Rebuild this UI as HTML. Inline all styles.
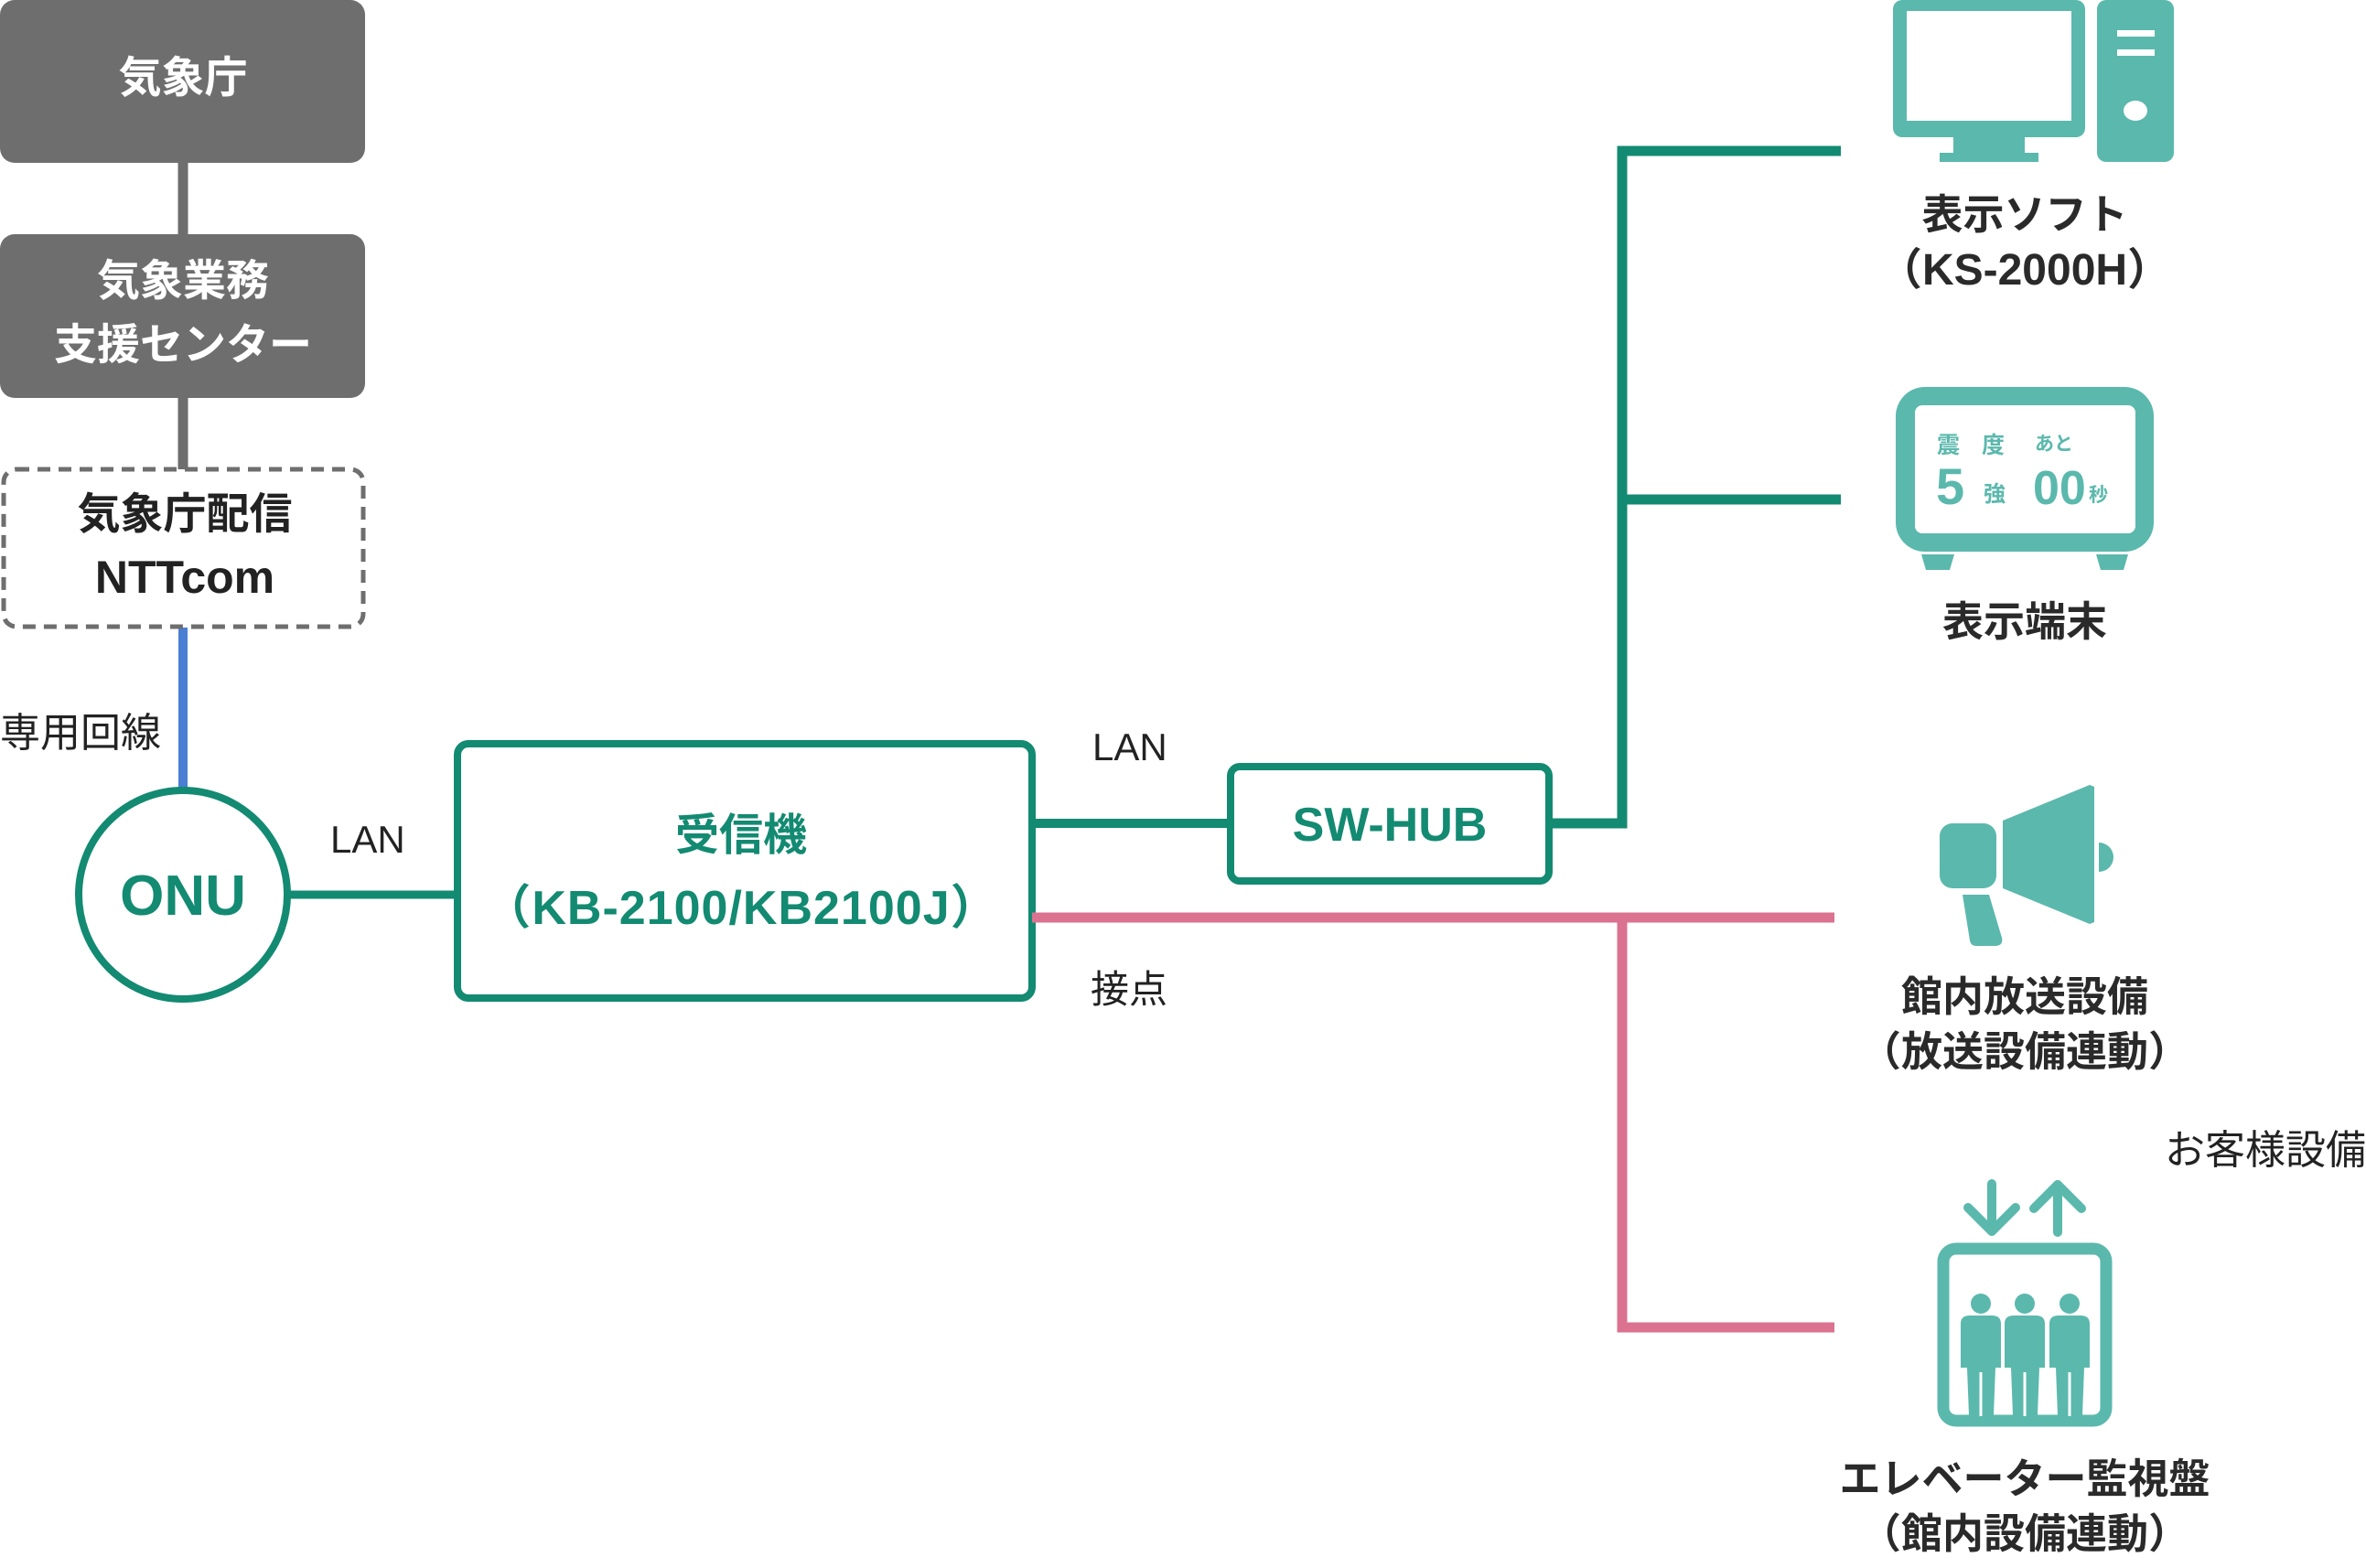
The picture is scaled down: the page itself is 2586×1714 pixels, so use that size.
<!DOCTYPE html>
<html><head><meta charset="utf-8"><style>
html,body{margin:0;padding:0;background:#fff}
svg{display:block}
text{font-family:"Liberation Sans","Noto Sans CJK JP",sans-serif}
</style></head><body>
<svg width="2586" height="1714" viewBox="0 0 2586 1714" xmlns="http://www.w3.org/2000/svg">
<line x1="200" y1="175" x2="200" y2="260" stroke="#6e6e6e" stroke-width="11"/>
<line x1="200" y1="430" x2="200" y2="514" stroke="#6e6e6e" stroke-width="11"/>
<line x1="200" y1="686" x2="200" y2="864" stroke="#4a7fd4" stroke-width="10"/>
<rect x="0" y="0" width="399" height="178" rx="16" fill="#6e6e6e"/>
<text x="200" y="101" font-size="47" font-weight="bold" fill="#fff" text-anchor="middle">気象庁</text>
<rect x="0" y="256" width="399" height="179" rx="16" fill="#6e6e6e"/>
<text x="200" y="323" font-size="47" font-weight="bold" fill="#fff" text-anchor="middle">気象業務</text>
<text x="200" y="393" font-size="47" font-weight="bold" fill="#fff" text-anchor="middle">支援センター</text>
<rect x="4" y="513" width="393" height="172" rx="14" fill="#fff" stroke="#6e6e6e" stroke-width="5" stroke-dasharray="14 9"/>
<text x="202" y="578" font-size="47" font-weight="bold" fill="#222" text-anchor="middle">気象庁配信</text>
<text x="202" y="648" font-size="50" font-weight="bold" fill="#222" text-anchor="middle">NTTcom</text>
<text x="0" y="816" font-size="44" fill="#222">専用回線</text>
<line x1="317" y1="978" x2="500" y2="978" stroke="#138a72" stroke-width="9"/>
<circle cx="200" cy="978" r="114" fill="#fff" stroke="#138a72" stroke-width="8"/>
<text x="200" y="1000" font-size="62" font-weight="bold" fill="#138a72" text-anchor="middle">ONU</text>
<text x="361" y="932" font-size="42" fill="#222">LAN</text>
<rect x="500" y="813" width="628" height="278" rx="12" fill="#fff" stroke="#138a72" stroke-width="8"/>
<text x="810" y="929" font-size="48" font-weight="bold" fill="#138a72" text-anchor="middle">受信機</text>
<text x="810" y="1010" font-size="52" font-weight="bold" fill="#138a72" text-anchor="middle" letter-spacing="1">（KB-2100/KB2100J）</text>
<text x="1194" y="831" font-size="42" fill="#222">LAN</text>
<text x="1192" y="1096" font-size="42" fill="#222">接点</text>
<line x1="1128" y1="900" x2="1344" y2="900" stroke="#138a72" stroke-width="10"/>
<polyline points="1694,900 1773,900 1773,165 2012,165" fill="none" stroke="#138a72" stroke-width="11"/>
<line x1="1773" y1="546" x2="2012" y2="546" stroke="#138a72" stroke-width="11"/>
<rect x="1345" y="838" width="348" height="125" rx="10" fill="#fff" stroke="#138a72" stroke-width="8"/>
<text x="1519" y="919" font-size="52" font-weight="bold" fill="#138a72" text-anchor="middle">SW-HUB</text>
<line x1="1128" y1="1003" x2="2005" y2="1003" stroke="#db7290" stroke-width="11"/>
<polyline points="1773,1003 1773,1451 2005,1451" fill="none" stroke="#db7290" stroke-width="11"/>
<g fill="#5bb8ad">
<rect x="2069" y="0" width="210" height="150" rx="10"/>
<rect x="2135" y="145" width="78" height="24"/>
<rect x="2120" y="167" width="108" height="10"/>
<rect x="2292" y="0" width="84" height="177" rx="10"/>
</g>
<rect x="2084" y="12" width="180" height="120" fill="#fff"/>
<rect x="2314" y="33" width="41" height="7" fill="#fff"/>
<rect x="2314" y="54" width="41" height="7" fill="#fff"/>
<ellipse cx="2334" cy="121" rx="13" ry="11" fill="#fff"/>
<text x="2213" y="250" font-size="45" font-weight="bold" fill="#2a2a2a" text-anchor="middle">表示ソフト</text>
<text x="2213" y="311" font-size="48" font-weight="bold" fill="#2a2a2a" text-anchor="middle">（KS-2000H）</text>
<rect x="2072" y="423" width="282" height="180" rx="32" fill="#5bb8ad"/>
<rect x="2093" y="443" width="241" height="140" rx="8" fill="#fff"/>
<polygon points="2100,606 2136,606 2131,623 2105,623" fill="#5bb8ad"/>
<polygon points="2291,606 2326,606 2321,623 2296,623" fill="#5bb8ad"/>
<g fill="#5bb8ad" font-weight="bold">
<text x="2117" y="495" font-size="25">震</text>
<text x="2166" y="495" font-size="25">度</text>
<text x="2224" y="492" font-size="21">あと</text>
<text x="2116" y="551" font-size="56">5</text>
<text x="2168" y="548" font-size="24">強</text>
<text x="2222" y="551" font-size="52">00</text>
<text x="2283" y="548" font-size="21">秒</text>
</g>
<text x="2213" y="695" font-size="45" font-weight="bold" fill="#2a2a2a" text-anchor="middle">表示端末</text>
<g fill="#5bb8ad">
<rect x="2120" y="900" width="62" height="71" rx="14"/>
<polygon points="2189,897 2284,858 2289,860 2289,1008 2284,1010 2189,971"/>
<path d="M2294,921 A16,16 0 0 1 2294,953 Z"/>
<path d="M2145,978 L2174,978 L2188,1025 Q2190,1034 2180,1034 L2160,1034 Q2154,1034 2153,1028 Z"/>
</g>
<text x="2213" y="1105" font-size="45" font-weight="bold" fill="#2a2a2a" text-anchor="middle">館内放送設備</text>
<text x="2213" y="1165" font-size="45" font-weight="bold" fill="#2a2a2a" text-anchor="middle">（放送設備連動）</text>
<text x="2366" y="1272" font-size="44" fill="#222">お客様設備</text>
<g stroke="#5bb8ad" stroke-width="10" stroke-linecap="round" stroke-linejoin="round" fill="none">
<line x1="2177" y1="1294" x2="2177" y2="1346"/>
<polyline points="2151,1320 2177,1346 2203,1320"/>
<line x1="2249" y1="1347" x2="2249" y2="1295"/>
<polyline points="2223,1321 2249,1295 2275,1321"/>
</g>
<rect x="2124" y="1365" width="178" height="188" rx="14" fill="none" stroke="#5bb8ad" stroke-width="13"/>
<g fill="#5bb8ad">
<circle cx="2165" cy="1425" r="11"/>
<circle cx="2213" cy="1425" r="11"/>
<circle cx="2262" cy="1425" r="11"/>
<path d="M2143,1447 Q2143,1438 2153,1438 L2177,1438 Q2187,1438 2187,1447 L2187,1495 L2181,1495 L2179,1547 L2152,1547 L2150,1495 L2143,1495 Z"/>
<path d="M2191,1447 Q2191,1438 2201,1438 L2225,1438 Q2235,1438 2235,1447 L2235,1495 L2229,1495 L2227,1547 L2200,1547 L2198,1495 L2191,1495 Z"/>
<path d="M2240,1447 Q2240,1438 2250,1438 L2274,1438 Q2284,1438 2284,1447 L2284,1495 L2278,1495 L2276,1547 L2249,1547 L2247,1495 L2240,1495 Z"/>
</g>
<g stroke="#fff" stroke-width="3">
<line x1="2165" y1="1500" x2="2165" y2="1548"/>
<line x1="2213" y1="1500" x2="2213" y2="1548"/>
<line x1="2262" y1="1500" x2="2262" y2="1548"/>
</g>
<text x="2213" y="1632" font-size="45" font-weight="bold" fill="#2a2a2a" text-anchor="middle">エレベーター監視盤</text>
<text x="2213" y="1692" font-size="45" font-weight="bold" fill="#2a2a2a" text-anchor="middle">（館内設備連動）</text>
</svg>
</body></html>
